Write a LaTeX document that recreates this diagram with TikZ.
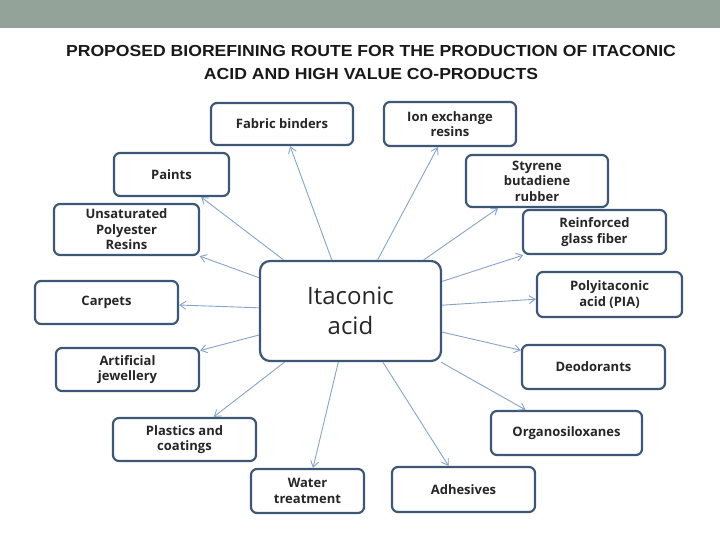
\documentclass[tikz,border=0pt]{standalone}
\usepackage{fontspec}
\setmainfont{Open Sans}
\newfontfamily\titlefont{Liberation Sans}
\usetikzlibrary{arrows.meta}
\definecolor{bord}{HTML}{3E5775}
\definecolor{arrc}{HTML}{86A3CC}
\definecolor{band}{HTML}{93A399}
\begin{document}
\begin{tikzpicture}[x=1pt,y=-1pt,
  bx/.style={draw=bord,line width=2.2pt,rounded corners=6pt,fill=white,align=center,font=\bfseries\fontsize{13}{15.5}\selectfont,text=black!85,inner sep=0pt},
  arr/.style={draw=arrc,line width=0.9pt,-{Straight Barb[length=6pt,width=8pt]}}]
\useasboundingbox (0,0) rectangle (720,540);
\fill[band] (0,0) rectangle (720,28);
\node[font=\titlefont\bfseries\fontsize{16}{23}\selectfont,align=center,text=black!90,xscale=1.1,transform shape] (t) at (371,62) {PROPOSED BIOREFINING ROUTE FOR THE PRODUCTION OF ITACONIC\\ACID AND HIGH VALUE CO-PRODUCTS};
\newcommand\bb[6]{\node[bx,minimum width={#4-#2},minimum height={#5-#3}] (#1) at ({(#2+#4)/2},{(#3+#5)/2}) {#6};}
\bb{fb}{211}{103}{353}{145}{Fabric binders}
\bb{ion}{384}{102}{516}{146}{Ion exchange\\resins}
\bb{pa}{114}{153}{229}{196}{Paints}
\bb{sb}{466}{155}{608}{207}{Styrene\\butadiene\\rubber}
\bb{up}{54}{204}{199}{255}{Unsaturated\\Polyester\\Resins}
\bb{rg}{523}{210}{666}{254}{Reinforced\\glass fiber}
\bb{ca}{35}{281}{178}{324}{Carpets}
\bb{pia}{537}{272}{682}{317}{Polyitaconic\\acid (PIA)}
\bb{aj}{56}{348}{199}{391}{Artificial\\jewellery}
\bb{de}{522}{345}{665}{389}{Deodorants}
\bb{pc}{113}{418}{256}{461}{Plastics and\\coatings}
\bb{or}{491}{411}{642}{455}{Organosiloxanes}
\bb{wt}{251}{469}{364}{513}{Water\\treatment}
\bb{ad}{392}{467}{535}{512}{Adhesives}
\node[bx,rounded corners=10pt,minimum width=181,minimum height=100,font=\fontsize{24}{30}\selectfont] (c) at (350.5,311) {Itaconic\\acid};
\foreach \b in {fb,ion,pa,sb,up,rg,ca,pia,aj,de,pc,or,wt,ad}{\draw[arr] (c) -- (\b);}
\end{tikzpicture}
\end{document}
